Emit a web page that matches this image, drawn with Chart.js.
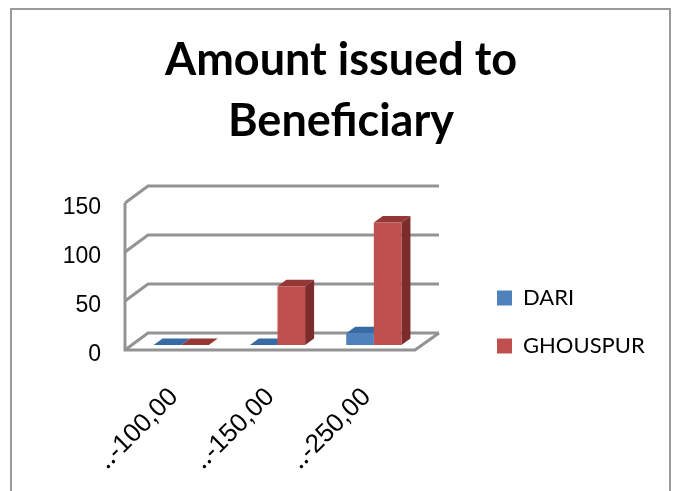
<!DOCTYPE html>
<html>
<head>
<meta charset="utf-8">
<style>
html, body { margin: 0; padding: 0; background: #fff; overflow: hidden; }
#frame { position: absolute; left: 10px; top: 8px; width: 657px; height: 500px; border: 2px solid #9a9a9a; }
#wrap { position: absolute; left: 0; top: 0; width: 674px; height: 491px; }
</style>
<script src="https://cdn.jsdelivr.net/npm/chart.js@4"></script>
</head>
<body>
<div id="frame"></div>
<div id="wrap"><canvas id="chart"></canvas></div>
<script>
var categories = ['\u2025-100,00', '\u2025-150,00', '\u2025-250,00'];
var dari = [0, 0, 12];
var ghouspur = [0, 60, 125];
var yTicks = [0, 50, 100, 150];

// fake 3d: walls and floor behind the bars, depth faces on each bar
var box3d = {
    id: 'box3d',
    afterLayout: function(chart) {
        chart.legend.left = 471;
        chart.legend.right = 674;
        chart.legend.top = 261;
        chart.titleBlock.left = 12;
        chart.titleBlock.right = 670;
    },
    beforeDatasetsDraw: function(chart) {
        var ctx = chart.ctx,
            x = chart.scales.x,
            y = chart.scales.y,
            frontL = x.left - 8,
            backL = x.left + 15,
            backR = x.right + 17,
            frontR = x.right - 7;

        function line(pts) {
            ctx.beginPath();
            ctx.moveTo(pts[0], pts[1]);
            for (var i = 2; i < pts.length; i += 2)
                ctx.lineTo(pts[i], pts[i + 1]);
            ctx.stroke();
        }

        ctx.save();
        ctx.strokeStyle = '#939393';
        ctx.lineWidth = 3;
        yTicks.forEach(function(v) {
            var p = y.getPixelForValue(v);
            line([frontL, p + 5, backL, p - 12, backR, p - 12]);
        });
        var zero = y.getPixelForValue(0);
        line([frontL, y.getPixelForValue(150) + 5, frontL, zero + 5, frontR, zero + 5, backR, zero - 12]);

        var tops = ['#376ba6', '#953735'];
        var sides = ['#2f5c8f', '#7c2d2b'];
        [0, 1].forEach(function(d) {
            chart.getDatasetMeta(d).data.forEach(function(bar) {
                var l = bar.x - bar.width / 2,
                    r = bar.x + bar.width / 2,
                    t = bar.y,
                    b = bar.base;
                ctx.fillStyle = sides[d];
                ctx.beginPath();
                ctx.moveTo(r, t);
                ctx.lineTo(r + 9, t - 6.5);
                ctx.lineTo(r + 9, b - 6.5);
                ctx.lineTo(r, b);
                ctx.closePath();
                ctx.fill();
                ctx.fillStyle = tops[d];
                ctx.beginPath();
                ctx.moveTo(l, t);
                ctx.lineTo(l + 9, t - 6.5);
                ctx.lineTo(r + 9, t - 6.5);
                ctx.lineTo(r, t);
                ctx.closePath();
                ctx.fill();
            });
        });
        ctx.restore();
    }
};

new Chart(document.getElementById('chart').getContext('2d'), {
    type: 'bar',
    data: {
        labels: categories,
        datasets: [
            { label: 'DARI', data: dari, backgroundColor: '#4f81bd', borderWidth: 0 },
            { label: 'GHOUSPUR', data: ghouspur, backgroundColor: '#c0504d', borderWidth: 0 }
        ]
    },
    options: {
        responsive: true,
        maintainAspectRatio: false,
        animation: false,
        layout: { padding: { left: 8, right: 114, top: 0, bottom: 0 } },
        datasets: { bar: { barPercentage: 1, categoryPercentage: 0.573 } },
        plugins: {
            tooltip: { enabled: false },
            title: {
                display: true,
                text: ['Amount issued to', 'Beneficiary'],
                color: '#000',
                font: { family: 'Lato', size: 45, weight: 'bold', lineHeight: 1.35 },
                padding: { top: 30.5, bottom: 46 }
            },
            legend: {
                display: true,
                position: 'right',
                align: 'start',
                labels: {
                    color: '#000',
                    font: { family: 'Lato', size: 22 },
                    boxWidth: 15,
                    boxHeight: 15,
                    padding: 26
                }
            }
        },
        scales: {
            x: {
                grid: { display: false },
                border: { display: false },
                afterFit: function(s) { s.height = 146; },
                ticks: {
                    color: '#000',
                    font: { family: 'Liberation Sans', size: 26 },
                    maxRotation: 45,
                    minRotation: 45,
                    autoSkip: false,
                    padding: 29,
                    labelOffset: -7
                }
            },
            y: {
                min: 0,
                max: 150,
                grid: { display: false },
                border: { display: false },
                afterFit: function(s) { s.width = 125; },
                ticks: {
                    color: '#000',
                    font: { family: 'Liberation Sans', size: 23 },
                    stepSize: 50,
                    padding: 24,
                    labelOffset: 10
                }
            }
        }
    },
    plugins: [box3d]
});
</script>
</body>
</html>
